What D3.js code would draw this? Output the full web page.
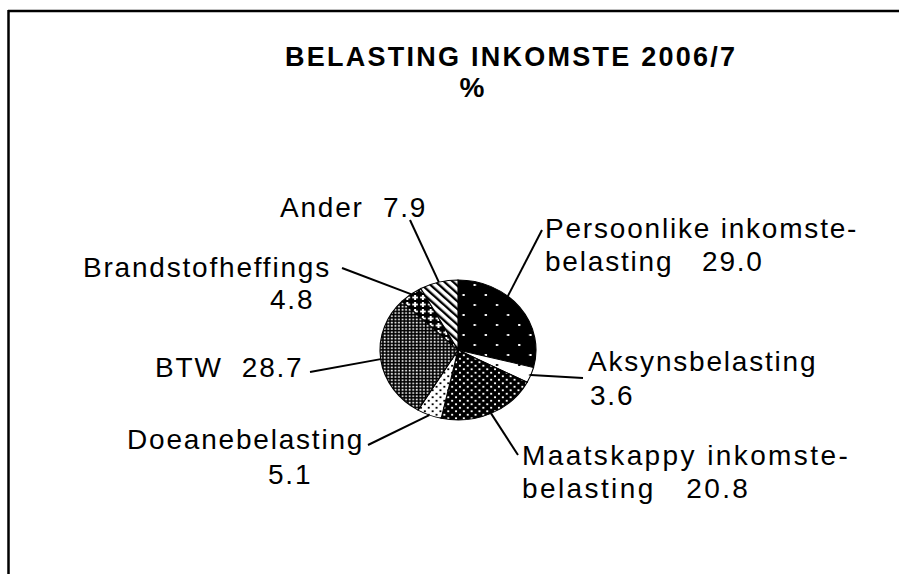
<!DOCTYPE html>
<html>
<head>
<meta charset="utf-8">
<script src="https://cdn.jsdelivr.net/npm/d3@7"></script>
<style>
  body { margin: 0; background: #fff; }
  svg text { font-family: "Liberation Sans", Arial, sans-serif; fill: #000; white-space: pre; }
</style>
</head>
<body>
<div id="chart"></div>
<script>
// Slice data, clockwise from 12 o'clock
const categories = ['Persoonlike inkomstebelasting', 'Aksynsbelasting', 'Maatskappy inkomstebelasting',
  'Doeanebelasting', 'BTW', 'Brandstofheffings', 'Ander'];
const values = [29.0, 3.6, 20.8, 5.1, 28.7, 4.8, 7.9];
// label lines, {v} is replaced by the value
const labelText = [
  ['Persoonlike inkomste-', 'belasting   {v}'],
  ['Aksynsbelasting', '{v}'],
  ['Maatskappy inkomste-', 'belasting   {v}'],
  ['Doeanebelasting', '{v}'],
  ['BTW  {v}'],
  ['Brandstofheffings', '{v}'],
  ['Ander  {v}']
];
const titleLines = ['BELASTING INKOMSTE 2006/7', '%'];

// layout (pixels)
const W = 899, H = 574;
const cx = 458, cy = 350, rx = 78, ry = 70;
const labelPos = [
  [[545, 238], [545, 271]],
  [[588, 371], [590, 405]],
  [[522, 465], [522, 498]],
  [[127, 449], [268, 484]],
  [[155, 377]],
  [[83, 277], [270, 309]],
  [[280, 217]]
];
const leaderEnd = [[542, 230], [583, 378], [518, 455], [368, 445], [310, 372], [342, 268], [410, 220]];
// where along each slice's arc the leader line attaches (0 = start, 1 = end)
const leaderFrac = [0.38, 0.5, 0.5, 0.5, 0.5, 0.5, 0.5];

const svg = d3.select('#chart').append('svg')
  .attr('width', W)
  .attr('height', H);

// fill patterns, one per slice
const defs = svg.append('defs');

function dotPattern(id, size, bg, fg, r) {
  const p = defs.append('pattern')
    .attr('id', id)
    .attr('patternUnits', 'userSpaceOnUse')
    .attr('width', size * 2)
    .attr('height', size * 2);
  p.append('rect').attr('width', size * 2).attr('height', size * 2).attr('fill', bg);
  [[size * 0.5, size * 0.5], [size * 1.5, size * 1.5]].forEach(([x, y]) => {
    p.append('rect').attr('x', x - r).attr('y', y - r).attr('width', r * 2).attr('height', r * 2).attr('fill', fg);
  });
}

dotPattern('p-pers', 10, '#000', '#fff', 1);
dotPattern('p-aks', 10, '#fff', '#000', 1);
dotPattern('p-maat', 3.5, '#000', '#fff', 0.9);
dotPattern('p-doe', 3.5, '#fff', '#000', 0.9);

// BTW: fine white grid dots on black
const btw = defs.append('pattern')
  .attr('id', 'p-btw')
  .attr('patternUnits', 'userSpaceOnUse')
  .attr('width', 3.2)
  .attr('height', 3.2);
btw.append('rect').attr('width', 3.2).attr('height', 3.2).attr('fill', '#000');
btw.append('rect').attr('x', 0.6).attr('y', 0.6).attr('width', 1.6).attr('height', 1.6).attr('fill', '#fff');

// Brandstof: white crosses on black
const brand = defs.append('pattern')
  .attr('id', 'p-brand')
  .attr('patternUnits', 'userSpaceOnUse')
  .attr('width', 7)
  .attr('height', 7);
brand.append('rect').attr('width', 7).attr('height', 7).attr('fill', '#000');
brand.append('rect').attr('x', 1).attr('y', 2.6).attr('width', 5).attr('height', 1.8).attr('fill', '#fff');
brand.append('rect').attr('x', 2.6).attr('y', 1).attr('width', 1.8).attr('height', 5).attr('fill', '#fff');

// Ander: diagonal stripes
const ander = defs.append('pattern')
  .attr('id', 'p-ander')
  .attr('patternUnits', 'userSpaceOnUse')
  .attr('width', 5.5)
  .attr('height', 5.5)
  .attr('patternTransform', 'rotate(-45)');
ander.append('rect').attr('width', 5.5).attr('height', 5.5).attr('fill', '#fff');
ander.append('rect').attr('x', 0).attr('width', 2.2).attr('height', 5.5).attr('fill', '#000');

const patternIds = ['p-pers', 'p-aks', 'p-maat', 'p-doe', 'p-btw', 'p-brand', 'p-ander'];

// frame: only top and left edges visible
svg.append('line')
  .attr('x1', 8).attr('y1', 11).attr('x2', W).attr('y2', 11)
  .attr('stroke', '#000').attr('stroke-width', 2.5);
svg.append('line')
  .attr('x1', 8.5).attr('y1', 10).attr('x2', 8.5).attr('y2', H)
  .attr('stroke', '#000').attr('stroke-width', 2.5);

// title
svg.append('text')
  .attr('x', 285)
  .attr('y', 66)
  .attr('font-size', '27px')
  .attr('font-weight', 'bold')
  .attr('textLength', 450)
  .attr('lengthAdjust', 'spacing')
  .text(titleLines[0]);
svg.append('text')
  .attr('x', 472)
  .attr('y', 97)
  .attr('text-anchor', 'middle')
  .attr('font-size', '28px')
  .attr('font-weight', 'bold')
  .text(titleLines[1]);

// pie
const pie = d3.pie().sort(null).value(d => d);
const arcs = pie(values);
const arc = d3.arc().innerRadius(0).outerRadius(ry);

const pieG = svg.append('g')
  .attr('transform', `translate(${cx},${cy}) scale(${rx / ry},1)`);

pieG.selectAll('path')
  .data(arcs)
  .enter()
  .append('path')
  .attr('d', arc)
  .attr('fill', (d, i) => `url(#${patternIds[i]})`)
  .attr('stroke', '#000')
  .attr('stroke-width', 1);

// leader lines from slice edge to the label
const edgePoint = (d, i) => {
  const a = d.startAngle + (d.endAngle - d.startAngle) * leaderFrac[i];
  return [cx + rx * Math.sin(a), cy - ry * Math.cos(a)];
};

svg.append('g')
  .selectAll('line')
  .data(arcs)
  .enter()
  .append('line')
  .attr('x1', (d, i) => edgePoint(d, i)[0])
  .attr('y1', (d, i) => edgePoint(d, i)[1])
  .attr('x2', (d, i) => leaderEnd[i][0])
  .attr('y2', (d, i) => leaderEnd[i][1])
  .attr('stroke', '#000')
  .attr('stroke-width', 2);

// labels
const labelG = svg.append('g');
arcs.forEach((d, i) => {
  labelText[i].forEach((line, j) => {
    labelG.append('text')
      .attr('x', labelPos[i][j][0])
      .attr('y', labelPos[i][j][1])
      .attr('font-size', '28px')
      .attr('letter-spacing', i === 2 ? '2.4px' : '1.8px')
      .text(line.replace('{v}', d.data.toFixed(1)));
  });
});
</script>
</body>
</html>
